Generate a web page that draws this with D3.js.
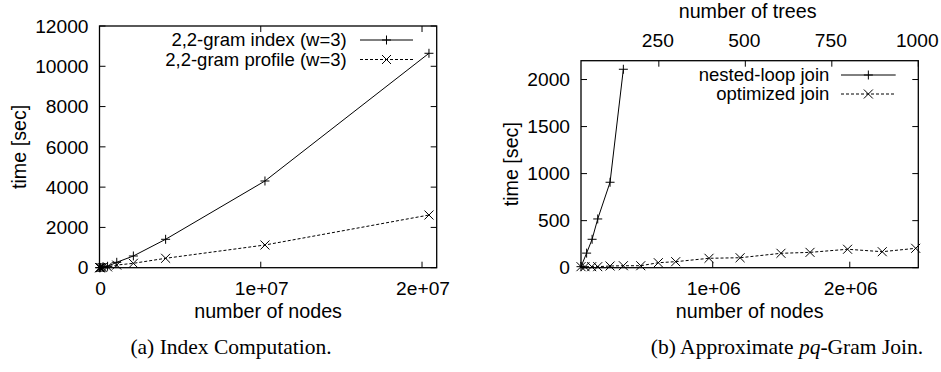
<!DOCTYPE html>
<html lang="en">

<head>
  <meta charset="UTF-8">
  <title>Index computation and pq-gram join</title>
  <script src="https://d3js.org/d3.v7.min.js"></script>
  <style>
    body {
      margin: 0;
      background: #fff;
    }

    .lbl {
      font-family: "Liberation Sans", Arial, sans-serif;
      font-size: 19.2px;
      fill: #000;
    }

    .lbl.title {
      font-size: 19.7px;
    }

    .lbl.key {
      font-size: 18.5px;
    }

    .cap {
      font-family: "Liberation Serif", "DejaVu Serif", serif;
      font-size: 21.5px;
      fill: #000;
    }
  </style>
</head>

<body>
  <div id="chart"></div>
  <script>
    // (a) index computation
    var nodesA = [1e4, 2e4, 5e4, 1e5, 2e5, 5e5, 1.07e6, 2.1e6, 4.1e6, 1.026e7, 2.043e7];
    var indexTime = [1, 2, 5, 10, 25, 70, 268, 581, 1410, 4305, 10645];
    var profileTime = [1, 1, 3, 5, 12, 40, 130, 218, 467, 1127, 2616];
    var yTicksA = [0, 2000, 4000, 6000, 8000, 10000, 12000];
    var xTicksA = [0, 1e7, 2e7];
    var xTickLabelsA = ["0", "1e+07", "2e+07"];

    // (b) approximate pq-gram join
    var nodesNested = [39000, 80000, 120000, 161000, 251000, 348000];
    var nestedTime = [11, 155, 302, 518, 908, 2109];
    var nodesOpt = [39000, 68000, 117000, 161000, 251000, 348000, 475000, 603000, 730000,
      973000, 1200000, 1498000, 1710000, 1984000, 2237000, 2481000];
    var optTime = [11, 11, 11, 11, 18, 21, 21, 53, 64, 100, 106, 153, 163, 196, 170, 206];
    var yTicksB = [0, 500, 1000, 1500, 2000];
    var xTicksB = [1e6, 2e6];
    var xTickLabelsB = ["1e+06", "2e+06"];
    var treeTicks = [250, 500, 750, 1000];

    var W = 941, H = 372;
    var svg = d3.select("#chart").append("svg")
      .attr("width", W)
      .attr("height", H);

    var tickLen = 6;

    function cross(g, x, y, kind) {
      var s = 4.5;
      var p = kind == "plus"
        ? "M" + (x - s) + "," + y + "H" + (x + s) + "M" + x + "," + (y - s) + "V" + (y + s)
        : "M" + (x - s) + "," + (y - s) + "L" + (x + s) + "," + (y + s) + "M" + (x - s) + "," + (y + s) + "L" + (x + s) + "," + (y - s);
      g.append("path").attr("d", p).attr("stroke", "#000").attr("stroke-width", 1).attr("fill", "none");
    }

    function panel(o) {
      var g = svg.append("g");
      var x = d3.scaleLinear().domain(o.xDomain).range([o.left, o.right]);
      var y = d3.scaleLinear().domain(o.yDomain).range([o.bottom, o.top]);

      // inward ticks, mirrored
      o.yTicks.forEach(function (t) {
        g.append("line").attr("x1", o.left).attr("x2", o.left + tickLen)
          .attr("y1", y(t)).attr("y2", y(t)).attr("stroke", "#000");
        g.append("line").attr("x1", o.right).attr("x2", o.right - tickLen)
          .attr("y1", y(t)).attr("y2", y(t)).attr("stroke", "#000");
        g.append("text").attr("class", "lbl")
          .attr("x", o.left - 11).attr("y", y(t) + 6.7)
          .attr("text-anchor", "end").text(t);
      });
      o.xTicks.forEach(function (t, i) {
        g.append("line").attr("x1", x(t)).attr("x2", x(t))
          .attr("y1", o.bottom).attr("y2", o.bottom - tickLen).attr("stroke", "#000");
        if (!o.x2) {
          g.append("line").attr("x1", x(t)).attr("x2", x(t))
            .attr("y1", o.top).attr("y2", o.top + tickLen).attr("stroke", "#000");
        }
        g.append("text").attr("class", "lbl")
          .attr("x", x(t) + 1).attr("y", 295)
          .attr("text-anchor", "middle").text(o.xTickLabels[i]);
      });

      if (o.x2) {
        var x2 = d3.scaleLinear().domain(o.x2.domain).range([o.left, o.right]);
        o.x2.ticks.forEach(function (t) {
          g.append("line").attr("x1", x2(t)).attr("x2", x2(t))
            .attr("y1", o.top).attr("y2", o.top + tickLen).attr("stroke", "#000");
          g.append("text").attr("class", "lbl")
            .attr("x", x2(t) - 1).attr("y", 46.7)
            .attr("text-anchor", "middle").text(t);
        });
        g.append("text").attr("class", "lbl title")
          .attr("x", (o.left + o.right) / 2 - 2).attr("y", 18.3)
          .attr("text-anchor", "middle").text(o.x2.label);
      }

      // frame
      g.append("rect").attr("x", o.left).attr("y", o.top)
        .attr("width", o.right - o.left).attr("height", o.bottom - o.top)
        .attr("fill", "none").attr("stroke", "#000").attr("stroke-width", 1.3);

      // axis titles
      g.append("text").attr("class", "lbl title")
        .attr("transform", "translate(" + o.yLabelX + "," + (o.top + o.bottom) / 2 + ") rotate(-90)")
        .attr("text-anchor", "middle").text("time [sec]");
      g.append("text").attr("class", "lbl title")
        .attr("x", (o.left + o.right) / 2).attr("y", 317.7)
        .attr("text-anchor", "middle").text("number of nodes");

      // series
      var line = d3.line().x(function (d) { return x(d[0]); }).y(function (d) { return y(d[1]); });
      o.series.forEach(function (s, k) {
        var pts = d3.zip(s.x, s.y);
        g.append("path").attr("d", line(pts)).attr("fill", "none")
          .attr("stroke", "#000").attr("stroke-width", 1)
          .attr("stroke-dasharray", s.dash ? "3,2" : null);
        pts.forEach(function (d) { cross(g, x(d[0]), y(d[1]), s.marker); });

        // legend entry
        var ly = o.legend.y + k * o.legend.dy;
        g.append("text").attr("class", "lbl key")
          .attr("x", o.legend.textX).attr("y", ly + 6)
          .attr("text-anchor", "end").text(s.name);
        g.append("line").attr("x1", o.legend.x1).attr("x2", o.legend.x2)
          .attr("y1", ly).attr("y2", ly).attr("stroke", "#000")
          .attr("stroke-dasharray", s.dash ? "3,2" : null);
        cross(g, (o.legend.x1 + o.legend.x2) / 2, ly, s.marker);
      });

      g.append("text").attr("class", "cap")
        .attr("x", o.capX).attr("y", 353.5)
        .attr("text-anchor", "middle").html(o.caption);
    }

    panel({
      left: 99.5, right: 436.7, top: 26, bottom: 267.7,
      xDomain: [0, 2.091e7], yDomain: [0, 12000],
      xTicks: xTicksA, xTickLabels: xTickLabelsA, yTicks: yTicksA,
      yLabelX: 26,
      legend: { y: 40, dy: 19.5, textX: 346.7, x1: 360, x2: 413 },
      series: [
        { name: "2,2-gram index (w=3)", x: nodesA, y: indexTime, marker: "plus", dash: false },
        { name: "2,2-gram profile (w=3)", x: nodesA, y: profileTime, marker: "x", dash: true }
      ],
      capX: 231,
      caption: "(a) Index Computation."
    });

    panel({
      left: 581, right: 918.3, top: 60.7, bottom: 267.7,
      xDomain: [39000, 2.5e6], yDomain: [0, 2200],
      xTicks: xTicksB, xTickLabels: xTickLabelsB, yTicks: yTicksB,
      x2: { domain: [25, 1000], ticks: treeTicks, label: "number of trees" },
      yLabelX: 518,
      legend: { y: 75, dy: 19, textX: 829.3, x1: 841, x2: 895.7 },
      series: [
        { name: "nested-loop join", x: nodesNested, y: nestedTime, marker: "plus", dash: false },
        { name: "optimized join", x: nodesOpt, y: optTime, marker: "x", dash: true }
      ],
      capX: 787,
      caption: "(b) Approximate <tspan font-style='italic'>pq</tspan>-Gram Join."
    });
  </script>
</body>

</html>
